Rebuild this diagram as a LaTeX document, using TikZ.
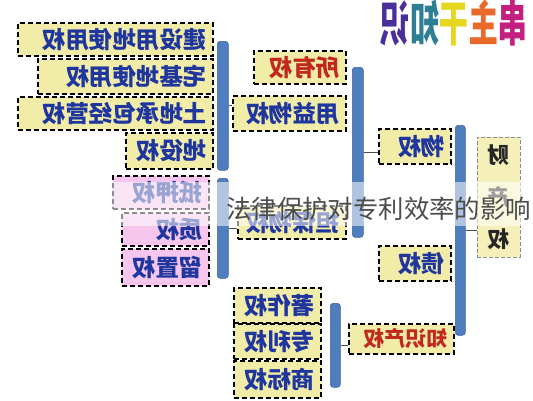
\documentclass[tikz,border=0pt]{standalone}
\usepackage{fontspec}
\newfontfamily\cjk{Noto Sans CJK SC}
\definecolor{boxyellow}{HTML}{F2ECA9}
\definecolor{boxpink}{HTML}{F6C6EE}
\definecolor{kblue}{HTML}{1E369E}
\definecolor{kred}{HTML}{C2281E}
\definecolor{barblue}{HTML}{4F7EBE}
\definecolor{barline}{HTML}{3A64A0}
\definecolor{tpurple}{HTML}{4A2E9C}
\definecolor{tteal}{HTML}{2E7E96}
\definecolor{tyellow}{HTML}{E6D61E}
\definecolor{torange}{HTML}{E8692A}
\definecolor{tmag}{HTML}{C41E7E}
\tikzset{
  kbox/.style={draw=black, line width=1.5pt, dash pattern=on 5pt off 3pt,
    fill=boxyellow, anchor=north west, inner xsep=6pt, inner ysep=0pt,
    align=right, text=kblue, font=\cjk\bfseries\fontsize{23.5}{24}\selectfont},
  pbox/.style={kbox, fill=boxpink},
  rtext/.style={text=kred},
  kbar/.style={draw=barline, fill=barblue, rounded corners=3pt, line width=0.6pt,
    anchor=north west, inner sep=0pt},
  tick/.style={draw=black!70, line width=0.8pt}
}
\begin{document}
\begin{tikzpicture}[x=1pt,y=-1pt]
    \useasboundingbox (0,0) rectangle (533,400);
    \clip (0,0) rectangle (533,400);

    % title
    \node[inner sep=0pt] (title) at (454,23) {\scalebox{-0.7}[1.15]{\cjk\bfseries\fontsize{42}{42}\selectfont
      \color{tmag}串\color{torange}主\color{tyellow}干\color{tteal}知\color{tpurple}识}} ;

    % land rights
    \node[kbox, text width=183pt, minimum height=33pt] (jsyd) at (17,22) {\reflectbox{建设用地使用权}} ;
    \node[kbox, text width=163pt, minimum height=35pt] (zjd) at (37,58) {\reflectbox{宅基地使用权}} ;
    \node[kbox, text width=183pt, minimum height=33pt] (tdcb) at (17,96) {\reflectbox{土地承包经营权}} ;
    \node[kbox, text width=75pt, minimum height=36pt] (dyi) at (125,132) {\reflectbox{地役权}} ;

    % security rights
    \node[pbox, text width=84pt, minimum height=33pt] (dya) at (112,175) {\reflectbox{抵押权}} ;
    \node[pbox, text width=75pt, minimum height=33pt] (zhi) at (121,212) {\reflectbox{质权}} ;
    \node[pbox, text width=75pt, minimum height=37pt] (liu) at (121,248) {\reflectbox{留置权}} ;

    % middle column
    \node[kbox, rtext, text width=80pt, minimum height=33pt] (suo) at (253,50) {\reflectbox{所有权}} ;
    \node[kbox, text width=101pt, minimum height=35pt] (yong) at (232,95) {\reflectbox{用益物权}} ;
    \node[kbox, text width=96pt, minimum height=33pt] (dan) at (237,205) {\reflectbox{担保物权}} ;

    \node[kbox, text width=60pt, minimum height=35pt] (wu) at (378,128) {\reflectbox{物权}} ;
    \node[kbox, text width=60pt, minimum height=35pt] (zhai) at (378,245) {\reflectbox{债权}} ;
    \node[kbox, rtext, text width=93pt, minimum height=30pt,
      font=\cjk\bfseries\fontsize{21}{22}\selectfont] (zscq) at (348,323) {\reflectbox{知识产权}} ;

    % intellectual property
    \node[kbox, text width=75pt, minimum height=35pt] (zzq) at (233,287) {\reflectbox{著作权}} ;
    \node[kbox, text width=75pt, minimum height=35pt] (zlq) at (233,323) {\reflectbox{专利权}} ;
    \node[kbox, text width=75pt, minimum height=37pt] (sbq) at (233,360) {\reflectbox{商标权}} ;

    % property right, vertical
    \node[kbox, draw=black!45, line width=0.8pt, dash pattern=on 4pt off 2pt, fill=boxyellow!80,
      text=black!85, align=center, inner xsep=0pt, text width=43pt, minimum height=120pt,
      font=\cjk\bfseries\fontsize{22}{42}\selectfont] (cai) at (477,137)
      {\reflectbox{财}\\\reflectbox{产}\\\reflectbox{权}} ;

    % brackets
    \node[kbar, minimum width=11pt, minimum height=129pt] (bar1) at (217,41) {} ;
    \node[kbar, minimum width=11pt, minimum height=100pt] (bar2) at (217,178) {} ;
    \node[kbar, minimum width=11pt, minimum height=170pt] (bar3) at (352,67) {} ;
    \node[kbar, minimum width=10pt, minimum height=210pt] (bar4) at (455,125) {} ;
    \node[kbar, minimum width=10pt, minimum height=84pt] (bar5) at (330,303) {} ;

    \draw[tick] (bar1.east) -- (bar1.east -| yong.west) ;
    \draw[tick] (bar2.east) -- (bar2.east -| dan.west) ;
    \draw[tick] (bar3.east) -- (bar3.east -| wu.west) ;
    \draw[tick] (bar4.east) -- (bar4.east -| cai.west) ;
    \draw[tick] (bar5.east) -- (bar5.east -| zscq.west) ;

    % overlay caption
    \fill[white, opacity=0.55] (100,182) rectangle (533,226) ;
    \node[inner sep=0pt, anchor=west, text=black!70, font=\cjk\fontsize{25.4}{26}\selectfont] (caption) at (226,209) {法律保护对专利效率的影响} ;
\end{tikzpicture}
\end{document}
